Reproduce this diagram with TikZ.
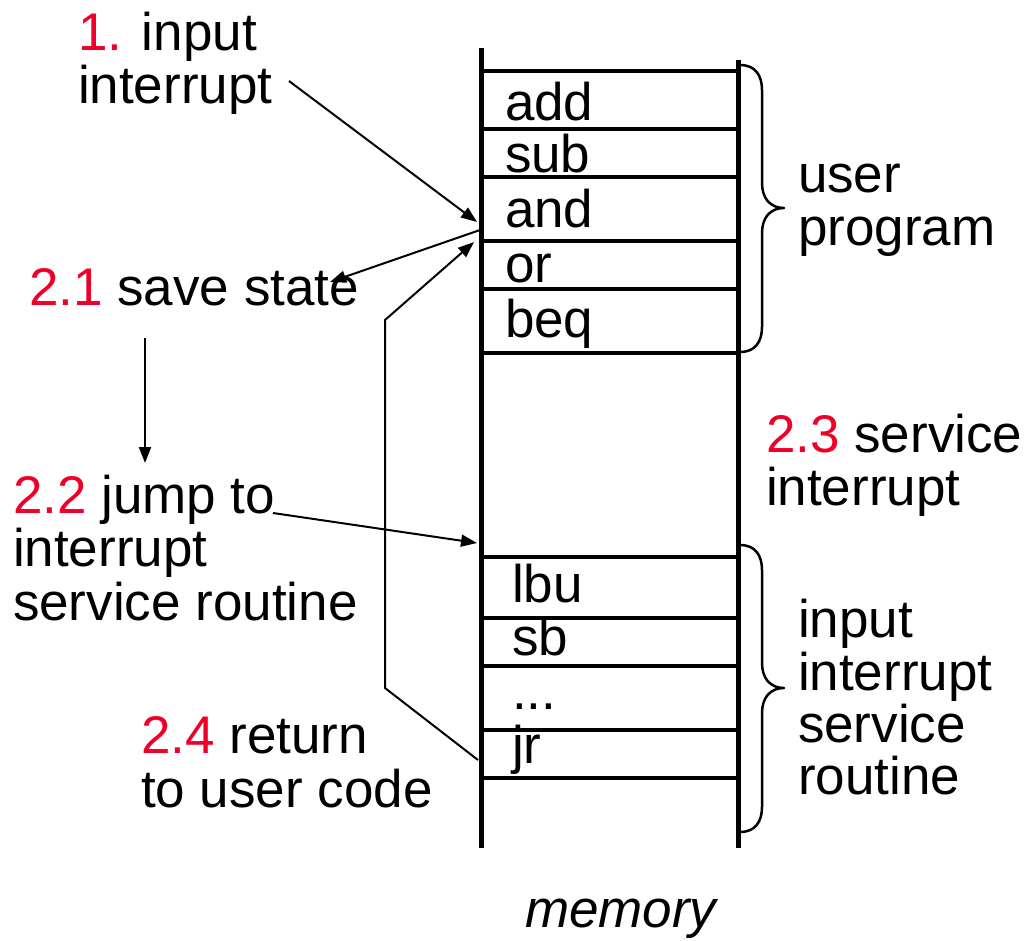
\documentclass[tikz,border=0pt]{standalone}
\usepackage{fontspec}
\setmainfont{Liberation Sans}
\usetikzlibrary{arrows.meta}
\definecolor{stepred}{RGB}{240,0,40}
\begin{document}
\begin{tikzpicture}[x=1pt,y=-1pt,
  txt/.style={anchor=base west, inner sep=0pt, outer sep=0pt, font=\fontsize{53}{53}\selectfont},
  rail/.style={line width=5pt},
  cell/.style={line width=4pt},
  conn/.style={line width=2pt, -{Triangle[length=16pt,width=12pt]}},
  brace/.style={line width=2.5pt, line join=round}]
\useasboundingbox[fill=white] (0,0) rectangle (1028,940);

% memory rails
\draw[rail] (481,48) -- (481,848);
\draw[rail] (738,60) -- (738,848);
% cell separators
\foreach \y in {71,129,177,241,289,353,557,618,666,730,778}
  \draw[cell] (481,\y) -- (738,\y);

% instructions
\node[txt] (iadd) at (505,120) {add};
\node[txt] (isub) at (505,172) {sub};
\node[txt] (iand) at (505,227) {and};
\node[txt] (ior)  at (505,282) {or};
\node[txt] (ibeq) at (505,337) {beq};
\node[txt] (ilbu) at (512,602) {lbu};
\node[txt] (isb)  at (512,655) {sb};
\node[txt] (idot) at (512,709) {...};
\node[txt] (ijr)  at (512,763) {jr};

% braces
\draw[brace] (740,65) .. controls (755,65) and (762,75) .. (762,90) -- (762,183)
  .. controls (762,198) and (770,208) .. (784,208)
  .. controls (770,208) and (762,218) .. (762,233) -- (762,327)
  .. controls (762,342) and (755,352) .. (740,352);
\draw[brace] (740,545) .. controls (755,545) and (762,555) .. (762,570) -- (762,663)
  .. controls (762,678) and (770,688) .. (784,688)
  .. controls (770,688) and (762,698) .. (762,713) -- (762,807)
  .. controls (762,822) and (755,832) .. (740,832);

% right-hand labels
\node[txt] (up1) at (798,192) {user};
\node[txt] (up2) at (798,245) {program};
\node[txt] (sv1) at (766,452) {\textcolor{stepred}{2.3} service};
\node[txt] (sv2) at (766,505) {interrupt};
\node[txt] (is1) at (798,637) {input};
\node[txt] (is2) at (798,690) {interrupt};
\node[txt] (is3) at (798,742) {service};
\node[txt] (is4) at (798,794) {routine};
\node[txt, font=\fontsize{53}{53}\selectfont\itshape] (mem) at (525,927) {memory};

% left-hand labels
\node[txt] (ii1) at (78,50)  {\textcolor{stepred}{1.} input};
\node[txt] (ii2) at (78,103) {interrupt};
\node[txt] (ss)  at (29,305) {\textcolor{stepred}{2.1} save state};
\node[txt] (jp1) at (13,513) {\textcolor{stepred}{2.2} jump to};
\node[txt] (jp2) at (13,566) {interrupt};
\node[txt] (jp3) at (13,620) {service routine};
\node[txt] (rt1) at (141,753) {\textcolor{stepred}{2.4} return};
\node[txt] (rt2) at (141,807) {to user code};

% connector end points
\coordinate (intFrom) at (289,81);
\coordinate (intTo)   at (477,222);
\coordinate (saveFrom) at (480,230);
\coordinate (saveTo)   at (330,282);
\coordinate (downFrom) at (145,338);
\coordinate (downTo)   at (145,463);
\coordinate (jumpFrom) at (273,513);
\coordinate (jumpTo)   at (477,543);
\coordinate (retFrom)  at (478,760);
\coordinate (retA)     at (385,688);
\coordinate (retB)     at (385,320);
\coordinate (retTo)    at (474,242);

% connectors
\draw[conn] (intFrom) -- (intTo);
\draw[conn] (saveFrom) -- (saveTo);
\draw[conn] (downFrom) -- (downTo);
\draw[conn] (jumpFrom) -- (jumpTo);
\draw[conn, line join=miter] (retFrom) -- (retA) -- (retB) -- (retTo);
\end{tikzpicture}
\end{document}
